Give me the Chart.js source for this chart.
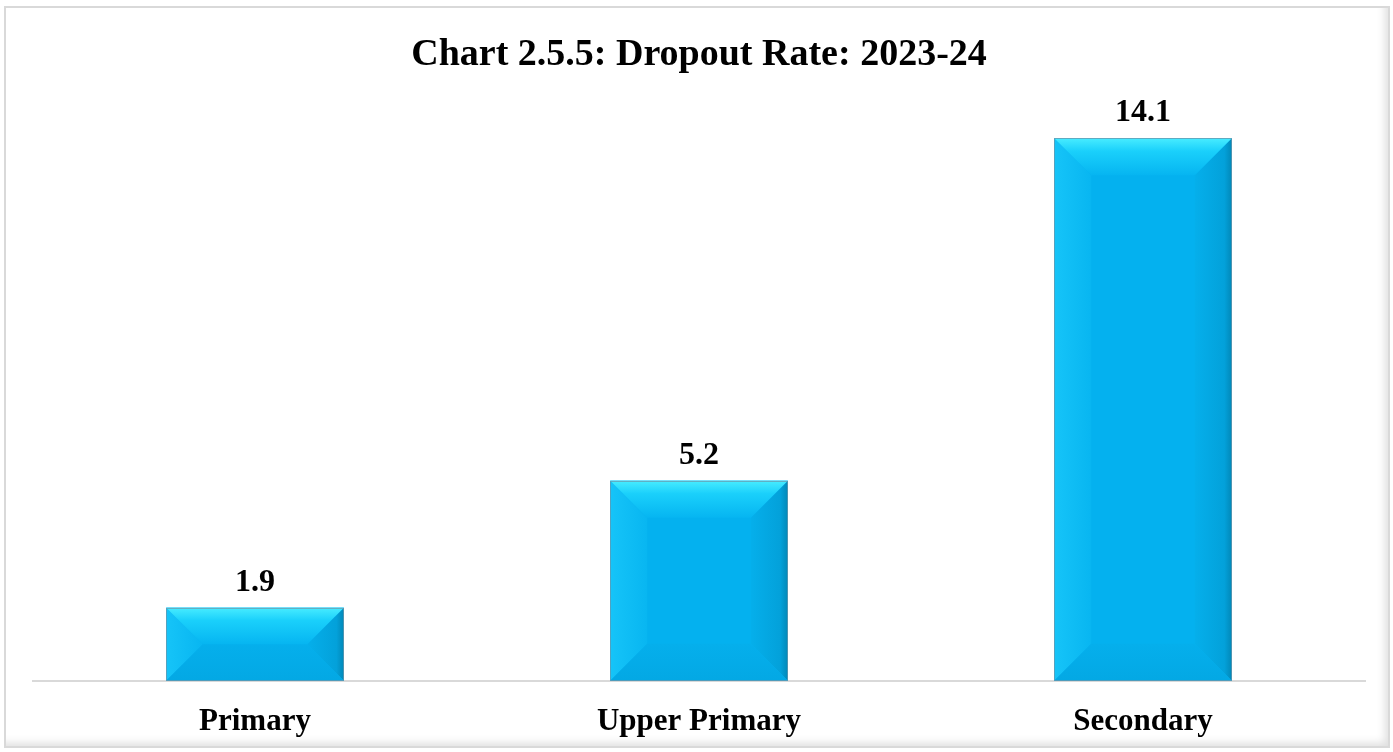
<!DOCTYPE html>
<html>
<head>
<meta charset="utf-8">
<script src="https://cdn.jsdelivr.net/npm/chart.js@4/dist/chart.umd.min.js"></script>
<style>
  html,body{margin:0;padding:0;background:#fff;width:1393px;height:752px;overflow:hidden;}
  #frame{position:absolute;left:4px;top:6px;width:1382px;height:738px;border:2px solid #d9d9d9;
    box-shadow: inset -7px -7px 8px -4px rgba(0,0,0,0.13);}
  #c{position:absolute;left:0;top:0;}
</style>
</head>
<body>
<div id="frame"></div>
<canvas id="c" width="1393" height="764"></canvas>
<script>
const categories = ["Primary", "Upper Primary", "Secondary"];
const dropoutRate = [1.9, 5.2, 14.1];
const chartTitle = "Chart 2.5.5: Dropout Rate: 2023-24";

const FONT = "'Liberation Serif', 'Times New Roman', serif";

const bevelPlugin = {
  id: 'bevel',
  afterDatasetsDraw(chart) {
    const ctx = chart.ctx;
    const meta = chart.getDatasetMeta(0);
    meta.data.forEach((bar, i) => {
      const x0 = bar.x - bar.width / 2, x1 = bar.x + bar.width / 2;
      const y0 = Math.min(bar.y, bar.base), y1 = Math.max(bar.y, bar.base);
      const h = y1 - y0, w = x1 - x0;
      const d = Math.min(37, h / 2, w / 2);
      ctx.save();
      // center
      ctx.fillStyle = '#04b1ef';
      ctx.fillRect(x0, y0, w, h);
      // left bevel
      let g = ctx.createLinearGradient(x0, 0, x0 + d, 0);
      g.addColorStop(0, '#16c4f8'); g.addColorStop(1, '#08b6f1');
      ctx.fillStyle = g;
      ctx.beginPath(); ctx.moveTo(x0, y0); ctx.lineTo(x0 + d, y0 + d); ctx.lineTo(x0 + d, y1 - d); ctx.lineTo(x0, y1); ctx.closePath(); ctx.fill();
      // right bevel
      g = ctx.createLinearGradient(x1 - d, 0, x1, 0);
      g.addColorStop(0, '#05afeb'); g.addColorStop(0.8, '#03a1da'); g.addColorStop(1, '#0288b8');
      ctx.fillStyle = g;
      ctx.beginPath(); ctx.moveTo(x1, y0); ctx.lineTo(x1 - d, y0 + d); ctx.lineTo(x1 - d, y1 - d); ctx.lineTo(x1, y1); ctx.closePath(); ctx.fill();
      // bottom bevel
      g = ctx.createLinearGradient(0, y1 - d, 0, y1);
      g.addColorStop(0, '#05afec'); g.addColorStop(1, '#03a8e4');
      ctx.fillStyle = g;
      ctx.beginPath(); ctx.moveTo(x0, y1); ctx.lineTo(x0 + d, y1 - d); ctx.lineTo(x1 - d, y1 - d); ctx.lineTo(x1, y1); ctx.closePath(); ctx.fill();
      // top bevel
      g = ctx.createLinearGradient(0, y0, 0, y0 + d);
      g.addColorStop(0, '#48ecff'); g.addColorStop(0.35, '#1ad0fb'); g.addColorStop(1, '#06b5f1');
      ctx.fillStyle = g;
      ctx.beginPath(); ctx.moveTo(x0, y0); ctx.lineTo(x1, y0); ctx.lineTo(x1 - d, y0 + d); ctx.lineTo(x0 + d, y0 + d); ctx.closePath(); ctx.fill();
      // outline
      ctx.strokeStyle = 'rgba(110,150,170,0.7)';
      ctx.lineWidth = 1;
      ctx.strokeRect(Math.round(x0) + 0.5, Math.round(y0) + 0.5, Math.round(w) - 1, Math.round(h) - 1);
      // value label
      ctx.fillStyle = '#000';
      ctx.font = "bold 32px " + FONT;
      ctx.textAlign = 'center';
      ctx.textBaseline = 'middle';
      ctx.fillText(String(chart.data.datasets[0].data[i]), bar.x, y0 - 25);
      ctx.restore();
    });
  }
};

new Chart(document.getElementById('c'), {
  type: 'bar',
  data: {
    labels: categories,
    datasets: [{
      data: dropoutRate,
      backgroundColor: '#04b1ef',
      borderWidth: 0,
      barPercentage: 0.4,
      categoryPercentage: 1.0
    }]
  },
  options: {
    responsive: false,
    devicePixelRatio: 1,
    animation: false,
    layout: { padding: { left: 33, right: 28, top: 0, bottom: 0 } },
    plugins: {
      legend: { display: false },
      tooltip: { enabled: false },
      title: {
        display: true,
        text: chartTitle,
        color: '#000',
        font: { family: FONT, size: 38, weight: 'bold', lineHeight: 1.2 },
        padding: { top: 32, bottom: 26 }
      }
    },
    scales: {
      x: {
        grid: { display: false, drawTicks: false },
        border: { display: true, color: '#d9d9d9', width: 2 },
        ticks: {
          color: '#000',
          padding: 23,
          font: { family: FONT, size: 31, weight: 'bold', lineHeight: 1.2 }
        }
      },
      y: {
        display: false,
        min: 0,
        max: 15
      }
    }
  },
  plugins: [bevelPlugin]
});
</script>
</body>
</html>
